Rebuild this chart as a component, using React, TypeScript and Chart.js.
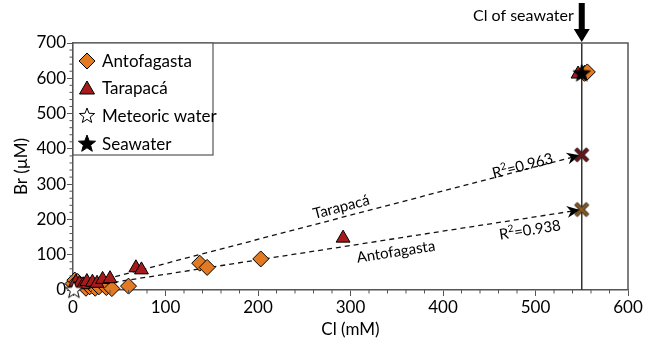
import React, { useEffect, useRef } from "react";
import { Chart, registerables } from "chart.js";

Chart.register(...registerables);

// ---- data ----
const antofagastaCl = [0, 2, 5, 14, 18, 24, 28, 36, 42, 60, 137, 145, 203, 553, 556];
const antofagastaBr = [18, 28, 24, 5, 9, 5, 9, 7, 4, 11, 76, 64, 88, 614, 618];
const tarapacaCl = [3, 7, 11, 15, 21, 26, 32, 40, 68, 74, 292, 546];
const tarapacaBr = [22, 18, 15, 24, 22, 19, 30, 32, 63, 57, 147, 612];
const meteoricCl = [1];
const meteoricBr = [2];
const seawaterCl = [550];
const seawaterBr = [616];
const tarapacaFitCl = [8, 548];
const tarapacaFitBr = [12, 382];
const antofagastaFitCl = [15, 548];
const antofagastaFitBr = [10, 227];
const tarapacaEndCl = [550];
const tarapacaEndBr = [383];
const antofagastaEndCl = [550];
const antofagastaEndBr = [228];
const seawaterClLine = 550;
const xTicks = [0, 100, 200, 300, 400, 500, 600];
const yTicks = [0, 100, 200, 300, 400, 500, 600, 700];
const legendLabels = ["Antofagasta", "Tarapacá", "Meteoric water", "Seawater"];
const tarapacaR2 = "0.963";
const antofagastaR2 = "0.938";

const FONT = "Lato, 'Open Sans', sans-serif";
const ORANGE = "#E17A22";
const RED = "#A61B1B";

const toPts = (xs: number[], ys: number[]) => xs.map((x, i) => ({ x, y: ys[i] }));

function starPath(ctx: CanvasRenderingContext2D, cx: number, cy: number, r: number) {
  ctx.beginPath();
  for (let i = 0; i < 10; i++) {
    const rad = i % 2 === 0 ? r : r * 0.42;
    const a = -Math.PI / 2 + (i * Math.PI) / 5;
    const x = cx + Math.cos(a) * rad;
    const y = cy + Math.sin(a) * rad;
    if (i === 0) ctx.moveTo(x, y);
    else ctx.lineTo(x, y);
  }
  ctx.closePath();
}

function makeStar(size: number, fill: string) {
  const c = document.createElement("canvas");
  c.width = size;
  c.height = size;
  const ctx = c.getContext("2d")!;
  starPath(ctx, size / 2, size / 2 + 1, size / 2 - 1);
  ctx.fillStyle = fill;
  ctx.fill();
  ctx.lineWidth = 1;
  ctx.strokeStyle = "#000";
  ctx.stroke();
  return c;
}

function makeCross(size: number, color: string) {
  const c = document.createElement("canvas");
  c.width = size;
  c.height = size;
  const ctx = c.getContext("2d")!;
  const m = 3;
  const draw = () => {
    ctx.beginPath();
    ctx.moveTo(m, m);
    ctx.lineTo(size - m, size - m);
    ctx.moveTo(size - m, m);
    ctx.lineTo(m, size - m);
    ctx.stroke();
  };
  ctx.lineCap = "butt";
  ctx.strokeStyle = "#222";
  ctx.lineWidth = 4.5;
  draw();
  ctx.strokeStyle = color;
  ctx.lineWidth = 2.5;
  draw();
  return c;
}

export default function App() {
  const ref = useRef<HTMLCanvasElement | null>(null);

  useEffect(() => {
    if (!ref.current) return;
    const whiteStar = makeStar(18, "#fff");
    const bigWhiteStar = makeStar(20, "#fff");
    const blackStar = makeStar(20, "#000");
    const redCross = makeCross(18, "#6A1616");
    const brownCross = makeCross(18, "#8A5A1E");

    const annotPlugin = {
      id: "annot",
      afterDatasetDraw(chart: any, args: any) {
        if (args.index !== 0 && args.index !== 1) return;
        const xs = chart.scales.x;
        const ys = chart.scales.y;
        const cl = args.index === 0 ? tarapacaFitCl : antofagastaFitCl;
        const br = args.index === 0 ? tarapacaFitBr : antofagastaFitBr;
        const x0 = xs.getPixelForValue(cl[0]);
        const y0 = ys.getPixelForValue(br[0]);
        const x1 = xs.getPixelForValue(cl[1]);
        const y1 = ys.getPixelForValue(br[1]);
        const ang = Math.atan2(y1 - y0, x1 - x0);
        const ctx = chart.ctx;
        ctx.save();
        ctx.translate(x1, y1);
        ctx.rotate(ang);
        ctx.beginPath();
        ctx.moveTo(0, 0);
        ctx.lineTo(-13, -6);
        ctx.lineTo(-9, 0);
        ctx.lineTo(-13, 6);
        ctx.closePath();
        ctx.fillStyle = "#000";
        ctx.fill();
        ctx.restore();
      },
      beforeDatasetsDraw(chart: any) {
        const { ctx, chartArea } = chart;
        const xs = chart.scales.x;
        const px = xs.getPixelForValue(seawaterClLine);
        ctx.save();
        ctx.strokeStyle = "#333";
        ctx.lineWidth = 1.5;
        ctx.beginPath();
        ctx.moveTo(px, chartArea.top);
        ctx.lineTo(px, chartArea.bottom);
        ctx.stroke();
        ctx.restore();
      },
      afterDraw(chart: any) {
        const { ctx, chartArea } = chart;
        const xs = chart.scales.x;
        const ys = chart.scales.y;
        ctx.save();
        // frame top/right
        ctx.strokeStyle = "#555";
        ctx.lineWidth = 1.5;
        ctx.beginPath();
        ctx.moveTo(chartArea.left, chartArea.top);
        ctx.lineTo(chartArea.right, chartArea.top);
        ctx.lineTo(chartArea.right, chartArea.bottom);
        ctx.stroke();
        // minor ticks
        ctx.lineWidth = 1;
        ctx.beginPath();
        for (let v = 20; v < 600; v += 20) {
          if (v % 100 === 0) continue;
          const p = xs.getPixelForValue(v);
          ctx.moveTo(p, chartArea.bottom);
          ctx.lineTo(p, chartArea.bottom + 3.5);
        }
        for (let v = 20; v < 700; v += 20) {
          if (v % 100 === 0) continue;
          const p = ys.getPixelForValue(v);
          ctx.moveTo(chartArea.left, p);
          ctx.lineTo(chartArea.left - 3.5, p);
        }
        ctx.stroke();

        // axis titles
        ctx.fillStyle = "#000";
        ctx.font = `17px ${FONT}`;
        ctx.textAlign = "center";
        ctx.textBaseline = "middle";
        ctx.fillText("Cl (mM)", (chartArea.left + chartArea.right) / 2, 330);
        ctx.save();
        ctx.translate(22, (chartArea.top + chartArea.bottom) / 2);
        ctx.rotate(-Math.PI / 2);
        ctx.fillText("Br (µM)", 0, 0);
        ctx.restore();

        // seawater arrow + label
        const sx = xs.getPixelForValue(seawaterClLine);
        ctx.fillStyle = "#000";
        ctx.fillRect(sx - 3, 3, 6, 28);
        ctx.beginPath();
        ctx.moveTo(sx - 8, 29);
        ctx.lineTo(sx + 8, 29);
        ctx.lineTo(sx, chartArea.top - 1);
        ctx.closePath();
        ctx.fill();
        ctx.font = `16px ${FONT}`;
        ctx.textAlign = "right";
        ctx.textBaseline = "middle";
        ctx.fillText("Cl of seawater", sx - 8, 16);

        // line labels
        const lineAngle = (cl: number[], br: number[]) => {
          const x0 = xs.getPixelForValue(cl[0]);
          const y0 = ys.getPixelForValue(br[0]);
          const x1 = xs.getPixelForValue(cl[1]);
          const y1 = ys.getPixelForValue(br[1]);
          return Math.atan2(y1 - y0, x1 - x0);
        };
        const aT = lineAngle(tarapacaFitCl, tarapacaFitBr);
        const aA = lineAngle(antofagastaFitCl, antofagastaFitBr);
        const label = (txt: string, dx: number, dy: number, ang: number) => {
          ctx.save();
          ctx.translate(xs.getPixelForValue(dx), ys.getPixelForValue(dy));
          ctx.rotate(ang);
          ctx.font = `15px ${FONT}`;
          ctx.textAlign = "center";
          ctx.textBaseline = "middle";
          ctx.fillText(txt, 0, 0);
          ctx.restore();
        };
        const r2 = (val: string, dx: number, dy: number, ang: number) => {
          ctx.save();
          ctx.translate(xs.getPixelForValue(dx), ys.getPixelForValue(dy));
          ctx.rotate(ang);
          ctx.textBaseline = "alphabetic";
          ctx.textAlign = "left";
          ctx.font = `15px ${FONT}`;
          const wR = ctx.measureText("R").width;
          const rest = "=" + val;
          const wRest = ctx.measureText(rest).width;
          ctx.font = `10px ${FONT}`;
          const w2 = ctx.measureText("2").width;
          const total = wR + w2 + wRest;
          let x = -total / 2;
          ctx.font = `15px ${FONT}`;
          ctx.fillText("R", x, 5);
          x += wR;
          ctx.font = `10px ${FONT}`;
          ctx.fillText("2", x, -1);
          x += w2;
          ctx.font = `15px ${FONT}`;
          ctx.fillText(rest, x, 5);
          ctx.restore();
        };
        label("Tarapacá", 290, 235, aT);
        label("Antofagasta", 349, 108, aA);
        r2(tarapacaR2, 486, 352, aT);
        r2(antofagastaR2, 494, 170, aA);

        // legend
        const lx = chartArea.left;
        const ly = chartArea.top;
        ctx.fillStyle = "#fff";
        ctx.fillRect(lx, ly, 140, 112);
        ctx.strokeStyle = "#555";
        ctx.lineWidth = 1.2;
        ctx.strokeRect(lx, ly, 140, 112);
        const rowY = [18, 45, 73, 101];
        const ix = lx + 14;
        // diamond
        ctx.beginPath();
        ctx.moveTo(ix, ly + rowY[0] - 8);
        ctx.lineTo(ix + 8, ly + rowY[0]);
        ctx.lineTo(ix, ly + rowY[0] + 8);
        ctx.lineTo(ix - 8, ly + rowY[0]);
        ctx.closePath();
        ctx.fillStyle = ORANGE;
        ctx.fill();
        ctx.strokeStyle = "#000";
        ctx.lineWidth = 1;
        ctx.stroke();
        // triangle
        ctx.beginPath();
        ctx.moveTo(ix, ly + rowY[1] - 7);
        ctx.lineTo(ix + 7.5, ly + rowY[1] + 6);
        ctx.lineTo(ix - 7.5, ly + rowY[1] + 6);
        ctx.closePath();
        ctx.fillStyle = RED;
        ctx.fill();
        ctx.stroke();
        ctx.drawImage(whiteStar, ix - 9, ly + rowY[2] - 10);
        ctx.drawImage(blackStar, ix - 10, ly + rowY[3] - 11);
        ctx.fillStyle = "#000";
        ctx.font = `17px ${FONT}`;
        ctx.textAlign = "left";
        ctx.textBaseline = "middle";
        legendLabels.forEach((t, i) => ctx.fillText(t, lx + 29, ly + rowY[i] + 1));
        ctx.restore();
      },
    };

    const chart = new Chart(ref.current, {
      type: "scatter",
      data: {
        datasets: [
          {
            type: "line",
            label: "Tarapacá fit",
            data: toPts(tarapacaFitCl, tarapacaFitBr),
            borderColor: "#111",
            borderWidth: 1.3,
            borderDash: [5, 4],
            pointRadius: 0,
            showLine: true,
            order: 10,
          },
          {
            type: "line",
            label: "Antofagasta fit",
            data: toPts(antofagastaFitCl, antofagastaFitBr),
            borderColor: "#111",
            borderWidth: 1.3,
            borderDash: [5, 4],
            pointRadius: 0,
            showLine: true,
            order: 9,
          },
          {
            label: "Tarapacá end",
            data: toPts(tarapacaEndCl, tarapacaEndBr),
            pointStyle: redCross as any,
            order: 8,
          },
          {
            label: "Antofagasta end",
            data: toPts(antofagastaEndCl, antofagastaEndBr),
            pointStyle: brownCross as any,
            order: 7,
          },
          {
            label: "Antofagasta",
            data: toPts(antofagastaCl, antofagastaBr),
            pointStyle: "rectRot",
            pointRadius: 8,
            backgroundColor: ORANGE,
            borderColor: "#000",
            borderWidth: 1,
            clip: false,
            order: 5,
          },
          {
            label: "Tarapacá",
            data: toPts(tarapacaCl, tarapacaBr),
            pointStyle: "triangle",
            pointRadius: 8,
            backgroundColor: RED,
            borderColor: "#000",
            borderWidth: 1,
            clip: false,
            order: 4,
          },
          {
            label: "Meteoric water",
            data: toPts(meteoricCl, meteoricBr),
            pointStyle: bigWhiteStar as any,
            clip: false,
            order: 2,
          },
          {
            label: "Seawater",
            data: toPts(seawaterCl, seawaterBr),
            pointStyle: blackStar as any,
            clip: false,
            order: 1,
          },
        ],
      },
      options: {
        responsive: false,
        animation: false,
        events: [],
        layout: { padding: { left: 0, right: 26, top: 43, bottom: 0 } },
        plugins: { legend: { display: false }, tooltip: { enabled: false } },
        scales: {
          x: {
            type: "linear",
            min: 0,
            max: 600,
            afterFit: (s: any) => {
              s.height = 56;
            },
            afterBuildTicks: (s: any) => {
              s.ticks = xTicks.map((v) => ({ value: v }));
            },
            ticks: {
              font: { family: FONT, size: 17 },
              color: "#000",
              padding: 1,
              maxRotation: 0,
            },
            grid: {
              display: true,
              drawOnChartArea: false,
              drawTicks: true,
              tickLength: 6,
              color: "#555",
              lineWidth: 1,
            },
            border: { display: true, color: "#555", width: 1.5 },
          },
          y: {
            type: "linear",
            min: 0,
            max: 700,
            afterFit: (s: any) => {
              s.width = 73;
            },
            afterBuildTicks: (s: any) => {
              s.ticks = yTicks.map((v) => ({ value: v }));
            },
            ticks: {
              font: { family: FONT, size: 17 },
              color: "#000",
              padding: 1,
            },
            grid: {
              display: true,
              drawOnChartArea: false,
              drawTicks: true,
              tickLength: 6,
              color: "#555",
              lineWidth: 1,
            },
            border: { display: true, color: "#555", width: 1.5 },
          },
        },
      },
      plugins: [annotPlugin],
    });
    return () => chart.destroy();
  }, []);

  return (
    <div style={{ position: "fixed", left: 0, top: 0, width: 654, height: 346, background: "#fff" }}>
      <canvas ref={ref} width={654} height={346} style={{ width: 654, height: 346 }} />
    </div>
  );
}
